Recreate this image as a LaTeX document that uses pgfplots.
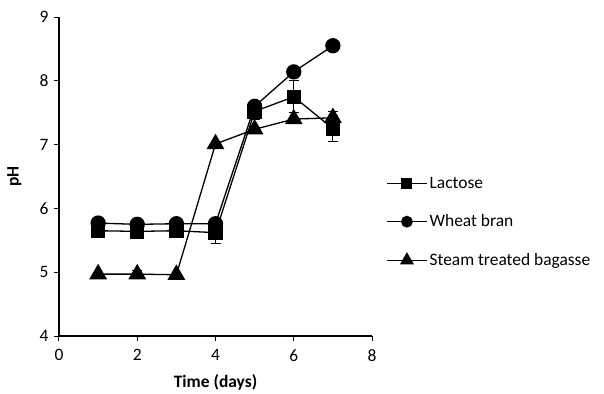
\documentclass[border=0pt]{standalone}
\usepackage{pgfplots}
\pgfplotsset{compat=1.18}
\usepackage{fontspec}
\setmainfont{Carlito}
\begin{document}
\begin{tikzpicture}[x=1bp,y=1bp]
\useasboundingbox (-59,-57) rectangle (545,336);
\begin{axis}[
  at={(0,0)}, anchor=origin,
  scale only axis, width=313bp, height=319bp,
  xmin=0, xmax=8, ymin=4, ymax=9,
  xtick={0,2,...,8}, ytick={4,5,...,9},
  axis lines=left, axis line style={-, line width=1.2bp},
  tick style={line width=1bp, black}, tick align=outside, major tick length=5bp,
  font=\fontsize{17.5}{20}\selectfont,
  xticklabel style={yshift=-5bp},
  yticklabel style={xshift=-2bp},
  /pgf/number format/assume math mode=true,
  xlabel={\textbf{Time (days)}}, ylabel={\textbf{pH}},
  xlabel style={at={(axis description cs:0.5,0)}, anchor=north, yshift=-35bp},
  ylabel style={at={(axis description cs:0,0.5)}, anchor=south, yshift=34bp},
  legend style={draw=none, fill=none, at={(axis description cs:1.045,0.357)}, anchor=west,
    font=\fontsize{17.5}{20}\selectfont, row sep=21bp, inner sep=0pt},
  legend cell align=left,
  legend image code/.code={\draw[#1, mark repeat=2, mark phase=2, mark options={scale=0.75}] plot coordinates {(0bp,0bp) (20bp,0bp) (40bp,0bp)};},
  error bars/error bar style={line width=1bp, black},
  error bars/error mark options={rotate=90, mark size=5bp, line width=1bp, black},
]
\addplot[black, line width=1.3bp, mark=square*, mark size=6.5bp, mark options={solid, fill=black}, error bars/.cd, y dir=both, y explicit]
  coordinates {(1,5.65) +- (0,0.03) (2,5.64) +- (0,0.07) (3,5.65) +- (0,0.03) (4,5.62) +- (0,0.17) (5,7.52) +- (0,0.12) (6,7.75) +- (0,0.25) (7,7.25) +- (0,0.2)};
\addlegendentry{Lactose}
\addplot[black, line width=1.3bp, mark=*, mark size=7bp, mark options={solid, fill=black}, error bars/.cd, y dir=both, y explicit]
  coordinates {(1,5.77) +- (0,0.02) (2,5.75) +- (0,0.02) (3,5.76) +- (0,0.02) (4,5.76) +- (0,0.02) (5,7.6) +- (0,0.03) (6,8.14) +- (0,0.02) (7,8.55) +- (0,0.02)};
\addlegendentry{Wheat bran}
\addplot[black, line width=1.3bp, mark=triangle*, mark size=9bp, mark options={solid, fill=black}, error bars/.cd, y dir=both, y explicit]
  coordinates {(1,4.97) +- (0,0.02) (2,4.97) +- (0,0.05) (3,4.96) +- (0,0.02) (4,7.01) +- (0,0.02) (5,7.24) +- (0,0.03) (6,7.4) +- (0,0.03) (7,7.42) +- (0,0.1)};
\addlegendentry{Steam treated bagasse}
\end{axis}
\end{tikzpicture}
\end{document}
